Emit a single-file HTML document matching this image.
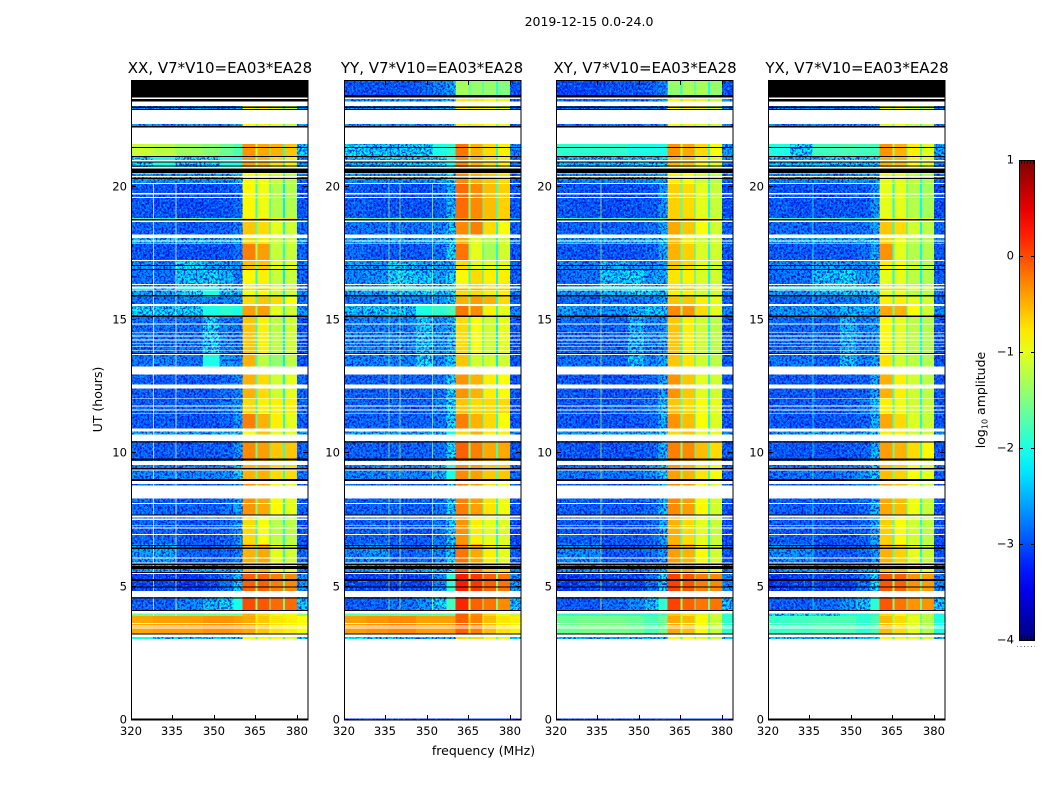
<!DOCTYPE html>
<html lang="en">
<head>
<meta charset="utf-8">
<title>2019-12-15 0.0-24.0</title>
<style>
html,body{margin:0;padding:0;background:#fff;}
svg{display:block;}
text{font-family:"DejaVu Sans","Liberation Sans",sans-serif;fill:#000;}
.tick{font-size:11.6px;}
.ptitle{font-size:15px;text-anchor:middle;}
.axt{font-size:12.5px;}
</style>
</head>
<body>
<svg id="chart" xmlns="http://www.w3.org/2000/svg" width="1050" height="800" viewBox="0 0 1050 800">
<defs>
<filter id="speckle" x="0" y="0" width="1" height="1" color-interpolation-filters="sRGB">
<feTurbulence type="fractalNoise" baseFrequency="0.5 0.42" numOctaves="2" seed="4" result="n"/>
<feColorMatrix in="n" type="matrix" values="0 0 0 0 0  0 0 0 0 0.03  0 0 0 0 0.85  6 0 0 0 -2.7" result="dark"/>
<feColorMatrix in="n" type="matrix" values="0 0 0 0 0.05  0 0 0 0 0.65  0 0 0 0 1  0 5 0 0 -2.7" result="light"/>
<feMerge result="m"><feMergeNode in="dark"/><feMergeNode in="light"/></feMerge>
<feComposite in="m" in2="SourceAlpha" operator="in"/>
</filter>
<linearGradient id="jet-gradient" x1="0" y1="1" x2="0" y2="0"></linearGradient>
</defs>
<rect width="1050" height="800" fill="#fff"/>
<text x="589" y="26" font-size="12.5" text-anchor="middle">2019-12-15 0.0-24.0</text>
<text class="ptitle" x="220" y="73">XX, V7*V10=EA03*EA28</text>
<text class="ptitle" x="432" y="73">YY, V7*V10=EA03*EA28</text>
<text class="ptitle" x="645" y="73">XY, V7*V10=EA03*EA28</text>
<text class="ptitle" x="857" y="73">YX, V7*V10=EA03*EA28</text>
<text class="axt" transform="translate(102,399.5) rotate(-90)" text-anchor="middle">UT (hours)</text>
<text class="axt" x="483.5" y="755" text-anchor="middle">frequency (MHz)</text>
<text class="axt" transform="translate(985,400) rotate(-90)" text-anchor="middle">log<tspan font-size="8" dy="2.5">10</tspan><tspan dy="-2.5"> amplitude</tspan></text>
<g id="plots"></g>
<g id="colorbar"></g>
</svg>
<script>
const panelNames = ["xx", "yy", "xy", "yx"];
const xTicks = [320, 335, 350, 365, 380];
const yTicks = [0, 5, 10, 15, 20];
const colorTicks = [1, 0, -1, -2, -3, -4];
const colorTickLabels = ["1", "0", "\u22121", "\u22122", "\u22123", "\u22124"];

const freqEdges = [320, 328, 336, 346, 352, 357, 360.4, 365, 365.7, 370, 370.5, 375, 375.6, 380, 384];
const timeEdges = [24, 23.34, 22.22, 21.11, 20.62, 20.10, 18.82, 18.75, 18.15, 17.89, 17.21, 16.91, 16.24, 16.13, 15.86, 15.56, 15.11, 13.69, 13.12, 12.07, 11.47, 10.87, 10.46, 9.75, 8.92, 7.69, 6.60, 5.89, 5.51, 4.84, 4.09, 3.90, 3.22, 3.04, 0];

const valuesXX = [
[-3,-3,-3,-3,-3,-3,-1,-1.8,-1,-2,-1,-2,-1.2,-3],
[-2.5,-2.5,-2.5,-2.6,-2.6,-2.4,-0.9,-1.6,-0.8,-1.6,-1,-1.8,-1.2,-2.5],
[-1.15,-1.2,-1.35,-1.45,-1.6,-1.75,-0.35,-1.2,-0.45,-1.7,-0.5,-1.9,-0.6,-2.2],
[-2.1,-2,-2.1,-2.1,-2,-2,-0.4,-1.3,-0.5,-1.7,-0.7,-1.9,-0.8,-2.5],
[-2.5,-2.5,-2.5,-2.5,-2.5,-2.3,-0.9,-1.6,-0.9,-1.9,-1.1,-2,-1.2,-2.8],
[-2.85,-2.9,-2.95,-2.95,-2.9,-2.75,-0.85,-1.9,-0.95,-2.1,-1.25,-2.2,-1.25,-2.9],
[-1.7,-1.9,-1.6,-2,-1.8,-1.8,-0.7,-1.5,-0.6,-1.5,-0.8,-1.6,-0.7,-2.3],
[-2.8,-2.8,-2.85,-2.8,-2.8,-2.6,-0.6,-1.7,-0.7,-2.1,-1,-2.1,-1.1,-2.8],
[-2.3,-2.3,-2.3,-2.3,-2.3,-2.2,-0.7,-1.5,-0.8,-1.8,-1.1,-1.9,-1.1,-2.5],
[-2.9,-2.9,-2.9,-2.95,-2.9,-2.7,-0.25,-1.3,-0.4,-1.9,-1.15,-2,-1.15,-2.8],
[-2.5,-2.6,-2.1,-2.4,-2.4,-2.5,-0.55,-1.5,-0.6,-2,-1,-2,-1,-2.7],
[-2.7,-2.7,-2.2,-2.05,-2.3,-2.6,-0.85,-2,-0.8,-2.1,-1.15,-2.2,-1.15,-2.8],
[-2,-2.1,-2,-2,-2.1,-2.2,-0.7,-1.6,-0.6,-1.8,-0.8,-1.8,-0.7,-2.4],
[-2.4,-2.4,-2.1,-2,-2.2,-2.3,-0.9,-1.8,-0.9,-2,-1.1,-2.1,-1.1,-2.6],
[-2.7,-2.7,-2.6,-2.6,-2.6,-2.6,-0.7,-1.8,-0.6,-2.1,-0.7,-2.1,-0.9,-2.7],
[-2.1,-2.1,-2.1,-2,-1.9,-2,-0.4,-1.4,-0.4,-1.8,-1,-2,-1.1,-2.5],
[-2.7,-2.7,-2.7,-2.1,-2.6,-2.7,-0.6,-1.9,-0.8,-2.1,-1.2,-2.2,-1.1,-2.9],
[-2.7,-2.6,-2.7,-2,-2.5,-2.6,-0.5,-1.8,-1.2,-2.1,-1.4,-2.2,-1.2,-2.9],
[-2.8,-2.85,-2.85,-2.85,-2.75,-2.6,-0.5,-1.8,-0.7,-2,-1.1,-2.1,-1,-2.8],
[-2.85,-2.8,-2.8,-2.8,-2.7,-2.5,-0.7,-1.9,-0.8,-2,-0.8,-2,-0.8,-2.8],
[-2.85,-2.85,-2.9,-2.9,-2.8,-2.5,-0.25,-1.7,-0.5,-2,-0.8,-2,-1,-2.8],
[-2.4,-2.4,-2.4,-2.4,-2.3,-2.2,-0.9,-1.5,-0.6,-1.7,-1,-1.9,-1,-2.5],
[-2.8,-2.85,-2.85,-2.85,-2.8,-2.5,-0.3,-1.6,-0.4,-1.9,-0.6,-1.9,-0.6,-2.8],
[-2.6,-2.6,-2.6,-2.6,-2.5,-2.2,-0.5,-1.6,-0.5,-1.8,-0.7,-1.9,-0.7,-2.7],
[-2.75,-2.8,-2.8,-2.85,-2.7,-2.4,-0.35,-1.5,-0.45,-1.9,-0.85,-2,-1,-2.8],
[-2.8,-2.75,-2.85,-2.85,-2.8,-2.5,-0.7,-1.9,-0.9,-2,-1.2,-2,-1.2,-2.9],
[-2.5,-2.4,-2.8,-2.85,-2.8,-2.6,-0.5,-1.7,-0.45,-1.9,-1,-2,-1.1,-2.8],
[-2.4,-2.4,-2.4,-2.4,-2.4,-2.3,-0.5,-1.6,-0.5,-1.9,-0.8,-2,-1,-2.6],
[-3,-3,-3.1,-3,-2.7,-2.2,-0.1,-1.5,-0.1,-1.7,-0.25,-1.7,-0.3,-2.5],
[-2.8,-2.8,-2.6,-2.3,-2.1,-2,0,-1.5,-0.05,-1.6,-0.15,-1.6,-0.15,-2.2],
[-1.6,-1.6,-1.6,-1.6,-1.6,-1.6,-0.5,-1.2,-0.7,-1.3,-1,-1.2,-1,-1.4],
[-0.45,-0.4,-0.4,-0.35,-0.35,-0.4,-0.45,-0.8,-0.6,-0.9,-0.75,-0.8,-0.8,-0.9],
[-2,-2.2,-2.2,-2.2,-2.2,-2.2,-0.9,-1.8,-0.9,-1.8,-0.9,-1.8,-1,-2.1],
[-3,-3,-3,-3,-3,-3,-3,-3,-3,-3,-3,-3,-3,-3]
];
const valuesYY = [
[-2.9,-2.9,-2.9,-2.8,-2.6,-2.4,-1.3,-1.7,-1.4,-1.9,-1.4,-1.9,-1.5,-2.9],
[-2.5,-2.5,-2.5,-2.6,-2.5,-2.2,-0.8,-1.4,-0.8,-1.4,-0.9,-1.5,-1,-2.8],
[-2.1,-2.2,-2.2,-2.1,-2,-1.9,-0.2,-1.2,-0.5,-1.6,-0.7,-1.9,-0.8,-2.6],
[-2.3,-2.3,-2.2,-2.2,-2.1,-2,-0.3,-1.3,-0.5,-1.7,-0.7,-1.9,-0.8,-2.7],
[-2.5,-2.6,-2.5,-2.5,-2.4,-2.1,-0.3,-1.3,-0.5,-1.6,-0.6,-1.7,-0.7,-2.8],
[-2.8,-2.9,-2.9,-2.9,-2.8,-2.3,-0.15,-1.5,-0.3,-1.7,-0.55,-1.8,-0.65,-2.9],
[-1.5,-1.6,-1.6,-1.7,-1.8,-1.6,-0.4,-1.2,-0.4,-1.2,-0.6,-1.4,-0.6,-2.2],
[-2.7,-2.7,-2.7,-2.7,-2.6,-2.2,-0.3,-1.7,-0.25,-2,-0.7,-2,-0.9,-2.8],
[-2.4,-2.4,-2.4,-2.4,-2.3,-2.1,-0.5,-1.4,-1,-1.8,-1.2,-1.9,-1.1,-2.6],
[-2.75,-2.85,-2.85,-2.85,-2.7,-2.1,-0.2,-1.5,-1,-2,-1.3,-2,-1.1,-2.9],
[-2.4,-2.5,-2.2,-2.4,-2.4,-2.3,-0.7,-1.8,-1,-2,-1,-2,-1,-2.8],
[-2.6,-2.5,-2.1,-2.2,-2.4,-2.1,-0.85,-1.8,-0.7,-2.1,-0.8,-2.1,-0.8,-2.8],
[-1.6,-1.7,-1.7,-1.7,-1.9,-1.8,-0.5,-1.3,-0.5,-1.5,-0.6,-1.6,-0.6,-2.3],
[-2.4,-2.4,-2.2,-2.1,-2.2,-2.1,-0.7,-1.6,-0.7,-1.8,-0.8,-1.9,-0.8,-2.7],
[-2.7,-2.7,-2.6,-2.6,-2.5,-2.2,-0.5,-1.6,-0.4,-1.9,-0.5,-2,-0.7,-2.8],
[-2.2,-2.2,-2.2,-2,-1.9,-1.8,-0.2,-1.2,-0.3,-1.7,-0.8,-1.9,-1,-2.6],
[-2.6,-2.6,-2.6,-2.2,-2.5,-2.3,-0.7,-1.9,-0.9,-2.1,-1.1,-2.2,-1,-2.9],
[-2.6,-2.6,-2.6,-2.1,-2.5,-2.2,-0.6,-1.8,-1.1,-2.1,-1.1,-2.2,-1.1,-2.9],
[-2.8,-2.8,-2.8,-2.8,-2.7,-2.1,-0.35,-1.6,-0.5,-1.9,-0.8,-2,-0.9,-2.9],
[-2.8,-2.8,-2.8,-2.8,-2.6,-2.1,-0.6,-1.7,-0.7,-1.9,-0.7,-1.9,-0.7,-2.9],
[-2.8,-2.8,-2.8,-2.8,-2.7,-2.1,-0.25,-1.6,-0.5,-1.9,-0.7,-1.9,-0.9,-2.9],
[-2.4,-2.4,-2.4,-2.4,-2.3,-2,-0.7,-1.4,-0.5,-1.7,-0.8,-1.8,-0.8,-2.6],
[-2.8,-2.8,-2.8,-2.8,-2.7,-2.1,-0.1,-1.5,-0.25,-1.8,-0.45,-1.8,-0.45,-2.9],
[-2.6,-2.6,-2.6,-2.6,-2.4,-2,-0.3,-1.5,-0.4,-1.7,-0.6,-1.8,-0.6,-2.8],
[-2.8,-2.8,-2.8,-2.8,-2.7,-2.1,-0.25,-1.5,-0.4,-1.8,-0.75,-1.9,-0.95,-2.9],
[-2.85,-2.8,-2.85,-2.85,-2.7,-2.2,-0.35,-1.7,-0.8,-1.9,-1,-2,-1.05,-3],
[-2.6,-2.5,-2.8,-2.75,-2.6,-2.2,-0.2,-1.5,-0.45,-1.8,-0.8,-1.9,-1,-2.9],
[-2.5,-2.4,-2.4,-2.4,-2.3,-2.1,-0.1,-1.4,-0.3,-1.7,-0.6,-1.8,-0.7,-2.7],
[-3,-3,-3,-3,-2.6,-1.9,0.25,-1.2,0.1,-1.5,-0.1,-1.5,-0.2,-2.5],
[-2.85,-2.8,-2.7,-2.5,-2.1,-1.8,0.2,-1.3,-0.1,-1.5,-0.2,-1.5,-0.3,-2.2],
[-1.7,-1.7,-1.7,-1.7,-1.7,-1.7,-0.1,-1,-0.3,-1.1,-0.7,-1,-1,-1.2],
[-0.4,-0.35,-0.3,-0.4,-0.4,-0.4,-0.1,-0.7,-0.25,-0.9,-0.55,-0.8,-0.75,-0.8],
[-2.1,-2.2,-2.2,-2.2,-2.2,-2.2,-0.7,-1.6,-0.7,-1.7,-0.9,-1.7,-1,-2.2],
[-3,-3,-3,-3,-3,-3,-3,-3,-3,-3,-3,-3,-3,-3]
];
const valuesXY = [
[-3,-3,-2.9,-2.9,-2.8,-2.6,-1.4,-1.9,-1.3,-2,-1.3,-2,-1.4,-2.9],
[-2.7,-2.7,-2.7,-2.7,-2.6,-2.5,-0.9,-1.6,-0.8,-1.6,-1,-1.7,-1.1,-2.6],
[-1.9,-1.9,-1.9,-2,-2,-2,-0.35,-1.2,-0.45,-1.6,-0.7,-1.8,-0.9,-2.5],
[-2.3,-2.3,-2.3,-2.2,-2.2,-2.2,-0.5,-1.4,-0.55,-1.7,-0.85,-1.8,-1,-2.6],
[-2.6,-2.6,-2.6,-2.6,-2.5,-2.4,-0.8,-1.6,-0.9,-1.8,-1.1,-1.9,-1.2,-2.8],
[-2.85,-2.9,-2.95,-2.9,-2.85,-2.5,-0.65,-1.7,-0.7,-1.9,-1,-2,-1.15,-2.95],
[-1.7,-1.8,-1.7,-1.9,-1.9,-1.7,-0.6,-1.4,-0.5,-1.4,-0.7,-1.5,-0.8,-2.3],
[-2.8,-2.8,-2.8,-2.8,-2.7,-2.4,-0.45,-1.7,-0.6,-2,-0.9,-2,-1.1,-2.8],
[-2.4,-2.4,-2.4,-2.4,-2.3,-2.2,-0.55,-1.5,-0.8,-1.8,-1.1,-1.9,-1.1,-2.6],
[-2.85,-2.9,-2.9,-2.9,-2.8,-2.4,-0.5,-1.6,-0.65,-2,-1.05,-2,-1.1,-2.9],
[-2.6,-2.6,-2.3,-2.5,-2.5,-2.4,-0.6,-1.6,-0.7,-2,-1,-2,-1.1,-2.8],
[-2.75,-2.7,-2.2,-2.1,-2.4,-2.4,-0.75,-1.8,-0.8,-2.1,-1.05,-2.1,-1.1,-2.85],
[-1.8,-1.9,-1.9,-1.9,-2,-2,-0.6,-1.5,-0.6,-1.6,-0.8,-1.7,-0.9,-2.4],
[-2.5,-2.5,-2.3,-2.1,-2.2,-2.2,-0.8,-1.7,-0.8,-1.9,-1.1,-2,-1.1,-2.7],
[-2.8,-2.8,-2.7,-2.7,-2.6,-2.4,-0.6,-1.7,-0.6,-2,-0.8,-2,-1,-2.8],
[-2.4,-2.5,-2.5,-2.3,-2.2,-2.2,-0.3,-1.4,-0.35,-1.8,-0.7,-1.9,-1,-2.6],
[-2.75,-2.8,-2.8,-2.3,-2.6,-2.5,-0.6,-1.8,-0.8,-2,-1.1,-2.1,-1.2,-2.9],
[-2.7,-2.7,-2.75,-2.2,-2.6,-2.4,-0.6,-1.8,-0.75,-2,-1.1,-2.1,-1.2,-2.9],
[-2.85,-2.85,-2.9,-2.85,-2.8,-2.4,-0.35,-1.6,-0.6,-1.9,-1,-2,-1.1,-2.9],
[-2.85,-2.85,-2.85,-2.8,-2.7,-2.3,-0.6,-1.7,-0.7,-1.9,-0.9,-2,-1,-2.9],
[-2.85,-2.9,-2.9,-2.85,-2.8,-2.3,-0.35,-1.6,-0.55,-1.9,-0.9,-2,-1.05,-2.9],
[-2.5,-2.5,-2.4,-2.4,-2.4,-2.2,-0.7,-1.5,-0.6,-1.7,-1,-1.9,-1,-2.6],
[-2.85,-2.9,-2.9,-2.85,-2.8,-2.3,-0.25,-1.5,-0.3,-1.8,-0.55,-1.9,-0.7,-2.9],
[-2.7,-2.7,-2.7,-2.65,-2.5,-2.2,-0.4,-1.5,-0.5,-1.8,-0.75,-1.9,-0.9,-2.8],
[-2.8,-2.85,-2.85,-2.85,-2.75,-2.3,-0.3,-1.5,-0.4,-1.8,-0.85,-1.9,-1.1,-2.9],
[-2.85,-2.85,-2.9,-2.9,-2.8,-2.4,-0.5,-1.7,-0.7,-1.9,-1,-2,-1.15,-2.95],
[-2.55,-2.55,-2.85,-2.85,-2.75,-2.5,-0.4,-1.6,-0.5,-1.9,-0.85,-2,-1.1,-2.9],
[-2.5,-2.5,-2.5,-2.5,-2.4,-2.3,-0.4,-1.5,-0.45,-1.8,-0.7,-1.9,-0.95,-2.7],
[-3.1,-3,-3,-3,-2.7,-2.1,0.05,-1.3,-0.05,-1.6,-0.25,-1.7,-0.3,-2.6],
[-2.85,-2.85,-2.75,-2.6,-2.2,-1.9,0.05,-1.4,-0.1,-1.6,-0.2,-1.6,-0.2,-2.2],
[-1.9,-1.9,-1.9,-1.9,-1.9,-1.8,-0.6,-1.3,-0.75,-1.4,-1,-1.5,-1.1,-1.9],
[-1.6,-1.55,-1.55,-1.6,-1.75,-1.6,-0.45,-1.2,-0.55,-1.4,-0.85,-1.6,-1.15,-1.9],
[-2.2,-2.3,-2.3,-2.3,-2.3,-2.2,-0.9,-1.8,-0.9,-1.9,-1,-1.9,-1.1,-2.3],
[-3,-3,-3,-3,-3,-3,-3,-3,-3,-3,-3,-3,-3,-3]
];
const valuesYX = [
[-3,-3,-3,-3,-3,-3,-1,-1.8,-1,-2,-1,-2,-1.2,-3],
[-2.6,-2.6,-2.6,-2.6,-2.6,-2.5,-1,-1.7,-0.9,-1.7,-1.1,-1.8,-1.2,-2.6],
[-2,-2.1,-1.8,-1.75,-1.8,-1.8,-0.35,-1.3,-0.5,-1.7,-0.8,-1.8,-1,-2.4],
[-2.3,-2.3,-2.2,-2.2,-2.2,-2.1,-0.5,-1.4,-0.55,-1.7,-0.85,-1.8,-1,-2.6],
[-2.6,-2.6,-2.6,-2.5,-2.5,-2.4,-1,-1.7,-1,-1.9,-1.2,-1.9,-1.3,-2.8],
[-2.85,-2.9,-2.9,-2.85,-2.85,-2.5,-1,-2,-1,-2,-1.25,-2.1,-1.3,-2.95],
[-1.7,-1.8,-1.7,-1.9,-1.9,-1.7,-0.7,-1.5,-0.7,-1.5,-0.9,-1.6,-1,-2.3],
[-2.75,-2.75,-2.8,-2.75,-2.7,-2.4,-0.6,-1.9,-0.7,-2.1,-1.1,-2.1,-1.2,-2.8],
[-2.4,-2.4,-2.4,-2.4,-2.3,-2.2,-0.7,-1.6,-0.9,-1.8,-1.2,-1.9,-1.2,-2.6],
[-2.85,-2.85,-2.85,-2.85,-2.75,-2.4,-0.35,-1.8,-1,-2,-1.25,-2.1,-1.25,-2.9],
[-2.6,-2.6,-2.4,-2.5,-2.5,-2.4,-0.8,-1.7,-0.9,-2,-1.1,-2,-1.2,-2.8],
[-2.75,-2.7,-2.2,-2.1,-2.4,-2.4,-1,-2,-1,-2.1,-1.2,-2.1,-1.25,-2.85],
[-1.8,-1.9,-1.9,-1.9,-2,-2,-0.7,-1.5,-0.7,-1.7,-1,-1.7,-1,-2.4],
[-2.5,-2.5,-2.3,-2.1,-2.2,-2.2,-1,-1.8,-1,-1.9,-1.2,-2,-1.2,-2.7],
[-2.8,-2.8,-2.7,-2.7,-2.6,-2.4,-0.8,-1.8,-0.8,-2,-1,-2,-1.1,-2.8],
[-2.5,-2.5,-2.5,-2.3,-2.3,-2.3,-0.45,-1.6,-0.5,-1.8,-0.9,-1.9,-1.1,-2.6],
[-2.75,-2.75,-2.75,-2.3,-2.6,-2.5,-0.85,-1.9,-1,-2,-1.2,-2.1,-1.25,-2.9],
[-2.7,-2.7,-2.75,-2.2,-2.6,-2.4,-0.75,-1.9,-1.1,-2,-1.2,-2.1,-1.25,-2.9],
[-2.85,-2.85,-2.9,-2.85,-2.8,-2.4,-0.5,-1.8,-0.8,-1.9,-1.1,-2,-1.2,-2.9],
[-2.85,-2.85,-2.85,-2.8,-2.7,-2.3,-0.8,-1.8,-0.95,-1.9,-1.1,-2,-1.15,-2.9],
[-2.85,-2.9,-2.9,-2.85,-2.8,-2.3,-0.45,-1.7,-0.7,-1.9,-1.05,-2,-1.15,-2.9],
[-2.5,-2.5,-2.4,-2.4,-2.4,-2.2,-0.8,-1.6,-0.8,-1.8,-1.1,-1.9,-1.1,-2.6],
[-2.85,-2.9,-2.9,-2.85,-2.8,-2.3,-0.4,-1.6,-0.5,-1.8,-0.7,-1.9,-0.85,-2.9],
[-2.7,-2.7,-2.7,-2.65,-2.5,-2.2,-0.55,-1.6,-0.65,-1.8,-0.9,-1.9,-1,-2.8],
[-2.8,-2.85,-2.85,-2.85,-2.75,-2.3,-0.45,-1.6,-0.55,-1.8,-0.95,-1.9,-1.15,-2.9],
[-2.85,-2.85,-2.9,-2.9,-2.8,-2.4,-0.65,-1.8,-0.85,-1.9,-1.1,-2,-1.2,-2.95],
[-2.55,-2.55,-2.85,-2.85,-2.75,-2.5,-0.5,-1.7,-0.65,-1.9,-1,-2,-1.15,-2.9],
[-2.5,-2.5,-2.5,-2.5,-2.4,-2.3,-0.55,-1.6,-0.6,-1.8,-0.85,-1.9,-1,-2.7],
[-3.1,-3,-3,-3,-2.7,-2.1,-0.05,-1.4,-0.1,-1.6,-0.35,-1.7,-0.4,-2.6],
[-2.85,-2.85,-2.75,-2.5,-2.2,-1.9,-0.05,-1.5,-0.2,-1.6,-0.35,-1.6,-0.35,-2.2],
[-2.1,-2.1,-2.1,-2,-2,-1.9,-0.7,-1.4,-0.85,-1.5,-1.1,-1.5,-1.2,-2],
[-1.85,-1.8,-1.75,-1.75,-1.9,-1.75,-0.55,-1.3,-0.7,-1.5,-1,-1.6,-1.25,-2],
[-2.2,-2.3,-2.3,-2.3,-2.3,-2.2,-0.9,-1.8,-0.9,-1.9,-1,-1.9,-1.1,-2.3],
[-3,-3,-3,-3,-3,-3,-3,-3,-3,-3,-3,-3,-3,-3]
];

const whiteBands = [
[23.34,23.28],[23.19,23.02],[22.87,22.35],[22.22,21.60],[21.0,20.94],[20.74,20.68],[20.52,20.49],[20.4,20.36],[20.13,20.10],[19.76,19.70],[19.61,19.58],
[18.73,18.68],[18.21,18.08],[17.98,17.94],[17.89,17.86],[17.25,17.21],[16.35,16.31],[16.28,16.25],[16.24,16.18],[16.13,16.10],[15.60,15.52],
[14.87,14.83],[14.54,14.51],[14.42,14.38],[14.26,14.23],[14.14,14.11],[14.0,13.98],[13.87,13.85],[13.72,13.69],[13.25,12.95],[12.58,12.43],
[12.06,12.03],[11.79,11.75],[11.64,11.60],[11.52,11.49],[10.93,10.82],[10.70,10.46],[9.71,9.56],[9.39,9.35],[8.96,8.85],[8.80,8.31],
[8.14,8.10],[7.67,7.59],[7.56,7.50],[7.30,7.27],[7.22,7.18],[6.97,6.93],[6.10,6.06],[5.91,5.87],[5.52,5.48],[4.84,4.61],[4.11,4.00],
[3.63,3.60],[3.54,3.51],[3.46,3.43],[3.21,3.11],[3.04,0.06]
];
const blackBands = [
[23.0,22.95],[22.91,22.87],[22.27,22.22],[21.48,21.45],[21.15,21.11],[20.94,20.90],[20.79,20.75],[20.68,20.52],[20.32,20.28],[18.79,18.73],
[17.06,17.02],[16.91,16.87],[15.93,15.88],[15.17,15.12],[13.76,13.72],[10.44,10.41],[9.81,9.73],[9.45,9.39],[9.03,8.97],[7.71,7.67],
[6.57,6.54],[6.47,6.41],[5.86,5.81],[5.77,5.67],[5.55,5.52],[5.28,5.22],[5.0,4.97],[4.59,4.55],[4.13,4.11],[3.25,3.21]
];
const blackBandsXX = [[24,23.34],[23.28,23.19],[0.06,0]];
const blackBandsYY = [[24,23.96],[23.44,23.34]];
const blackBandsXY = [[24,23.96],[23.44,23.34]];
const blackBandsYX = [[24,23.34],[23.28,23.19],[0.06,0]];

const rfiFreqsXX = [328, 336];
const rfiValuesXX = [null, null];
const rfiFreqsYY = [336, 340, 351.8];
const rfiValuesYY = [-1.4, -1.2, -1.2];
const rfiFreqsXY = [336];
const rfiValuesXY = [-1.2];
const rfiFreqsYX = [336];
const rfiValuesYX = [-1.9];
const rfiTimeStart = 3.9;
const rfiTimeEnd = 20.1;

const panelValues = [valuesXX, valuesYY, valuesXY, valuesYX];
const panelBlack = [blackBandsXX, blackBandsYY, blackBandsXY, blackBandsYX];
const panelRfiFreqs = [rfiFreqsXX, rfiFreqsYY, rfiFreqsXY, rfiFreqsYX];
const panelRfiValues = [rfiValuesXX, rfiValuesYY, rfiValuesXY, rfiValuesYX];

const SVGNS = "http://www.w3.org/2000/svg";
const plotLefts = [131, 344, 556, 768];
const plotW = 177, plotTop = 80, plotBottom = 720;
const xScale = (f, left) => left + (f - 320) / (384 - 320) * plotW;
const yScale = t => plotBottom - t / 24 * (plotBottom - plotTop);
const clamp = v => Math.max(0, Math.min(1, v));
function jet(v) {
  const n = clamp((v + 4) / 5);
  const r = clamp(1.5 - Math.abs(4 * n - 3));
  const g = clamp(1.5 - Math.abs(4 * n - 2));
  const b = clamp(1.5 - Math.abs(4 * n - 1));
  return "rgb(" + Math.round(r * 255) + "," + Math.round(g * 255) + "," + Math.round(b * 255) + ")";
}
function make(tag, attrs, parent) {
  const el = document.createElementNS(SVGNS, tag);
  for (const k in attrs) el.setAttribute(k, attrs[k]);
  parent.appendChild(el);
  return el;
}
const plots = document.getElementById("plots");

panelNames.forEach((name, p) => {
  const left = plotLefts[p];
  const values = panelValues[p];
  const g = make("g", {}, plots);
  
  

  const cells = make("g", {"shape-rendering": "crispEdges"}, g);
  
  
  values.forEach((row, i) => {
    row.forEach((v, j) => {
      const x0 = xScale(freqEdges[j], left), x1 = xScale(freqEdges[j + 1], left);
      const y0 = yScale(timeEdges[i]), y1 = yScale(timeEdges[i + 1]);
      const cell = make("rect", {x: x0, y: y0, width: x1 - x0, height: y1 - y0, fill: jet(v)}, cells);
      
      
    });
  });

  const noise = make("g", {filter: "url(#speckle)", opacity: "0.85"}, g);
  
  
  values.forEach((row, i) => {
    row.forEach((v, j) => {
      if (v > -2.05 || (j > 5 && j < 13)) return;
      const x0 = xScale(freqEdges[j], left), x1 = xScale(freqEdges[j + 1], left);
      const y0 = yScale(timeEdges[i]), y1 = yScale(timeEdges[i + 1]);
      make("rect", {x: x0, y: y0, width: x1 - x0, height: y1 - y0, fill: "#000"}, noise);
    });
  });

  panelRfiFreqs[p].forEach((f, k) => {
    const v = panelRfiValues[p][k];
    const line = make("rect", {
      x: xScale(f, left), y: yScale(rfiTimeEnd), width: 1,
      height: yScale(rfiTimeStart) - yScale(rfiTimeEnd),
      fill: v === null ? "#fff" : jet(v), opacity: "0.7", "shape-rendering": "crispEdges"
    }, g);
    
    
  });

  whiteBands.forEach(b => {
    const r = make("rect", {x: left, y: yScale(b[0]), width: plotW, height: yScale(b[1]) - yScale(b[0]), fill: "#fff", "shape-rendering": "crispEdges"}, g);
    
    
  });
  blackBands.concat(panelBlack[p]).forEach(b => {
    const r = make("rect", {x: left, y: yScale(b[0]), width: plotW, height: Math.max(1, yScale(b[1]) - yScale(b[0])), fill: "#000", "shape-rendering": "crispEdges"}, g);
    
    
  });

  const frame = make("rect", {x: left + 0.5, y: plotTop + 0.5, width: plotW - 0.5, height: plotBottom - plotTop - 0.5, fill: "none", stroke: "#000", "stroke-width": 1}, g);
  
  

  xTicks.forEach(t => {
    const x = Math.round(xScale(t, left)) + 0.5;
    const m1 = make("line", {x1: x, x2: x, y1: plotBottom, y2: plotBottom - 5, stroke: "#000"}, g);
    
    
    const m2 = make("line", {x1: x, x2: x, y1: plotTop, y2: plotTop + 5, stroke: "#000"}, g);
    
    
    const lab = make("text", {x: x - 0.5, y: 735, "text-anchor": "middle", class: "tick"}, g);
    
    
    lab.textContent = t;
  });
  yTicks.forEach(t => {
    const y = Math.round(yScale(t)) - 0.5;
    const m1 = make("line", {x1: left, x2: left + 5, y1: y, y2: y, stroke: "#000"}, g);
    
    
    const m2 = make("line", {x1: left + plotW, x2: left + plotW - 5, y1: y, y2: y, stroke: "#000"}, g);
    
    
    const lab = make("text", {x: left - 4, y: y + 4, "text-anchor": "end", class: "tick"}, g);
    
    
    lab.textContent = t;
  });
});

/* colorbar */
const grad = document.getElementById("jet-gradient");
for (let s = 0; s <= 20; s++) {
  make("stop", {offset: s / 20, "stop-color": jet(-4 + s / 4)}, grad);
}
const cb = document.getElementById("colorbar");
const cbX = 1019, cbW = 15, cbTop = 160, cbBottom = 640;
const cbScale = v => cbBottom - (v + 4) / 5 * (cbBottom - cbTop);
const cbRect = make("rect", {x: cbX + 0.5, y: cbTop + 0.5, width: cbW, height: cbBottom - cbTop, fill: "url(#jet-gradient)", stroke: "#000"}, cb);


colorTicks.forEach((v, i) => {
  const y = Math.round(cbScale(v)) + 0.5;
  const a = make("line", {x1: cbX, x2: cbX + 4, y1: y, y2: y, stroke: "#000"}, cb);
  
  
  const b = make("line", {x1: cbX + cbW + 1, x2: cbX + cbW - 3, y1: y, y2: y, stroke: "#000"}, cb);
  
  
  const lab = make("text", {x: 1014, y: y + 3, "text-anchor": "end", class: "tick"}, cb);
  
  
  lab.textContent = colorTickLabels[i];
});
[1021, 1024, 1027, 1030, 1033].forEach(x => {
  const top = make("line", {x1: x + 0.5, x2: x + 0.5, y1: cbTop, y2: cbTop + 4, stroke: "#000", "stroke-width": 0.8}, cb);
  
  
  const bot = make("line", {x1: x + 0.5, x2: x + 0.5, y1: cbBottom, y2: cbBottom - 4, stroke: "#000", "stroke-width": 0.8}, cb);
  
  
});
const dots = make("line", {x1: 1017, x2: 1035, y1: 646.5, y2: 646.5, stroke: "#666", "stroke-width": 1, "stroke-dasharray": "1 2.5"}, cb);


</script>
</body>
</html>
